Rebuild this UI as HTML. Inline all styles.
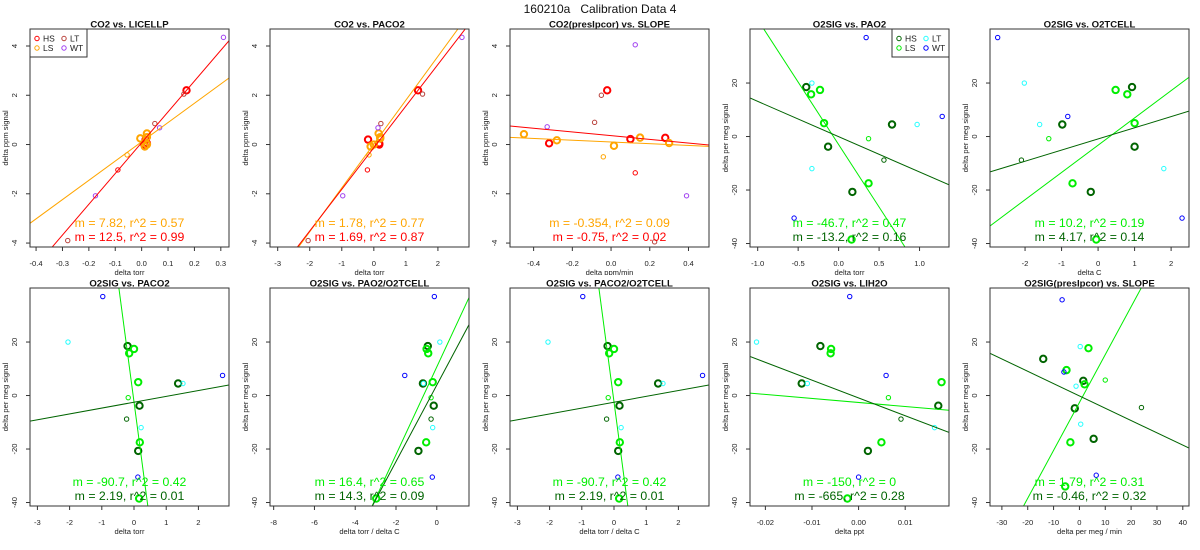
<!DOCTYPE html>
<html><head><meta charset="utf-8">
<style>
html,body{margin:0;padding:0;background:#fff;width:1200px;height:550px;overflow:hidden;}
svg{display:block;font-family:"Liberation Sans",Arial,sans-serif;}
</style></head>
<body>
<svg id="chart" width="1200" height="550" viewBox="0 0 1200 550" xmlns="http://www.w3.org/2000/svg">
<text x="600" y="13" text-anchor="middle" font-size="12" fill="#111" style="white-space:pre" xml:space="preserve">160210a   Calibration Data 4</text>
</svg>
<script>
// ---- CO2 data ----
const co2Groups = ['A','A','A','A','B','B','B','B','B','a','b','C','C','C','D','D','D'];
const co2Y = [2.2,0.2,0.0,0.05, 0.45,0.3,0.25,0.0,-0.08, -1.03,-0.42, -3.9,0.85,2.05, -2.08,0.68,4.35];
const p1X = [0.17,0.015,0.01,0.02, 0.02,0.02,-0.005,0.02,0.012, -0.09,-0.055, -0.28,0.05,0.16, -0.175,0.068,0.31];
const p2X = [1.38,-0.18,0.17,0.17, 0.15,0.2,0.2,0.0,-0.1, -0.2,-0.15, -2.05,0.22,1.52, -0.97,0.13,2.75];
const p3Y = [2.2,0.05,0.22,0.27, 0.42,0.17,-0.05,0.28,0.06, -1.15,-0.5, 2.0,0.9,-3.95, 0.72,4.05,-2.08];
const p3X = [-0.02,-0.32,0.1,0.28, -0.45,-0.28,0.015,0.15,0.3, 0.125,-0.04, -0.05,-0.085,0.225, -0.33,0.125,0.39];
// ---- O2 data ----
const o2Groups = ['A','A','A','A','B','B','B','B','B','b','a','C','C','C','D','D','D'];
const o2Y = [18.5,4.5,-3.8,-20.7, 15.8,17.4,5.0,-17.5,-38.5, -0.8,-8.8, 20,4.5,-12, 37,7.5,-30.5];
const p4X = [-0.4,0.66,-0.13,0.17,-0.34,-0.23,-0.18,0.37,0.16,0.37,0.56,-0.33,0.97,-0.33,0.34,1.28,-0.55];
const p5X = [0.93,-0.98,1.0,-0.2,0.8,0.48,1.0,-0.7,-0.05,-1.35,-2.1,-2.02,-1.6,1.8,-2.75,-0.83,2.3];
const p6X = [-0.2,1.37,0.17,0.13,-0.15,0.0,0.13,0.18,0.16,-0.18,-0.23,-2.05,1.52,0.22,-0.97,2.75,0.12];
const p7X = [-0.44,-0.68,-0.15,-0.9,-0.42,-0.5,-0.2,-0.52,-2.97,-0.28,-0.28,0.15,-0.65,-0.2,-0.12,-1.57,-0.22];
const p9X = [-0.0082,-0.0122,0.0171,0.002,-0.006,-0.0059,0.0178,0.0049,-0.0024,0.0064,0.0091,-0.0219,-0.011,0.0163,-0.0019,0.0059,0.0];
const p10X = [-14,1.5,-1.8,5.5,-5,3.5,2,-3.5,-5.5,10,24,0.3,-1.3,0.5,-6.7,-6,6.5];
const p10Y = [13.7,5.5,-4.8,-16.2, 9.5,17.7,4.2,-17.5,-34, 5.8,-4.5, 18.3,3.5,-10.7, 35.8,8.8,-29.8];
// ---- regression lines ----
const fitSlopesPrimary = [12.5,1.69,-0.75,-13.2,4.17,2.19,14.3,2.19,-665,-0.46];
const fitInterceptsPrimary = [0.075,-0.13,0.36,-0.05,-0.9,-2.5,3.9,-2.5,-0.9,-0.15];
const fitSlopesSecondary = [7.82,1.78,-0.354,-46.7,10.2,-90.7,16.4,-90.7,-150,1.79];
const fitInterceptsSecondary = [0.11,0.02,0.105,-3.0,-3.25,-2.4,10.7,-2.4,-2.6,-2.6];
const fitLabelsPrimary = ['m = 12.5, r^2 = 0.99','m = 1.69, r^2 = 0.87','m = -0.75, r^2 = 0.02','m = -13.2, r^2 = 0.16','m = 4.17, r^2 = 0.14','m = 2.19, r^2 = 0.01','m = 14.3, r^2 = 0.09','m = 2.19, r^2 = 0.01','m = -665, r^2 = 0.28','m = -0.46, r^2 = 0.32'];
const fitLabelsSecondary = ['m = 7.82, r^2 = 0.57','m = 1.78, r^2 = 0.77','m = -0.354, r^2 = 0.09','m = -46.7, r^2 = 0.47','m = 10.2, r^2 = 0.19','m = -90.7, r^2 = 0.42','m = 16.4, r^2 = 0.65','m = -90.7, r^2 = 0.42','m = -150, r^2 = 0','m = 1.79, r^2 = 0.31'];
// ---- ticks ----
const co2YTicks = [-4,-2,0,2,4];
const o2YTicks = [-40,-20,0,20];
const p1XTicks = [-0.4,-0.3,-0.2,-0.1,0,0.1,0.2,0.3];
const p1XTickLabels = ['-0.4','-0.3','-0.2','-0.1','0.0','0.1','0.2','0.3'];
const p2XTicks = [-3,-2,-1,0,1,2];
const p3XTicks = [-0.4,-0.2,0,0.2,0.4];
const p3XTickLabels = ['-0.4','-0.2','0.0','0.2','0.4'];
const p4XTicks = [-1,-0.5,0,0.5,1];
const p4XTickLabels = ['-1.0','-0.5','0.0','0.5','1.0'];
const p5XTicks = [-2,-1,0,1,2];
const p7XTicks = [-8,-6,-4,-2,0];
const p9XTicks = [-0.02,-0.01,0,0.01];
const p9XTickLabels = ['-0.02','-0.01','0.00','0.01'];
const p10XTicks = [-30,-20,-10,0,10,20,30,40];

const NS = 'http://www.w3.org/2000/svg';
const svg = document.getElementById('chart');
function mk(tag, attrs, parent){
  const e = document.createElementNS(NS, tag);
  for (const k in attrs) e.setAttribute(k, attrs[k]);
  (parent||svg).appendChild(e);
  return e;
}
const co2Colors = {A:'#ff0000', a:'#ff0000', B:'#ffa500', b:'#ffa500', C:'#b8403a', D:'#a040f0'};
const o2Colors = {A:'#006400', a:'#006400', B:'#00ee00', b:'#00ee00', C:'#22ffff', D:'#0000ff'};

const panels = [
 {title:'CO2 vs. LICELLP', col:0,row:0, xr:[-0.423,0.331], yr:[-4.16,4.69], xs:p1X, ys:co2Y, gs:co2Groups, col_:co2Colors, xt:p1XTicks, xl:p1XTickLabels, yt:co2YTicks, xlab:'delta torr', ylab:'delta ppm signal', legend:'left'},
 {title:'CO2 vs. PACO2', col:1,row:0, xr:[-3.24,2.97], yr:[-4.16,4.69], xs:p2X, ys:co2Y, gs:co2Groups, col_:co2Colors, xt:p2XTicks, xl:null, yt:co2YTicks, xlab:'delta torr', ylab:'delta ppm signal'},
 {title:'CO2(presIpcor) vs. SLOPE', col:2,row:0, xr:[-0.522,0.506], yr:[-4.16,4.69], xs:p3X, ys:p3Y, gs:co2Groups, col_:co2Colors, xt:p3XTicks, xl:p3XTickLabels, yt:co2YTicks, xlab:'delta ppm/min', ylab:'delta ppm signal'},
 {title:'O2SIG vs. PAO2', col:3,row:0, xr:[-1.095,1.364], yr:[-41.3,40.2], xs:p4X, ys:o2Y, gs:o2Groups, col_:o2Colors, xt:p4XTicks, xl:p4XTickLabels, yt:o2YTicks, xlab:'delta torr', ylab:'delta per meg signal', legend:'right'},
 {title:'O2SIG vs. O2TCELL', col:4,row:0, xr:[-2.96,2.49], yr:[-41.3,40.2], xs:p5X, ys:o2Y, gs:o2Groups, col_:o2Colors, xt:p5XTicks, xl:null, yt:o2YTicks, xlab:'delta C', ylab:'delta per meg signal'},
 {title:'O2SIG vs. PACO2', col:0,row:1, xr:[-3.23,2.95], yr:[-41.3,40.2], xs:p6X, ys:o2Y, gs:o2Groups, col_:o2Colors, xt:p2XTicks, xl:null, yt:o2YTicks, xlab:'delta torr', ylab:'delta per meg signal'},
 {title:'O2SIG vs. PAO2/O2TCELL', col:1,row:1, xr:[-8.18,1.58], yr:[-41.3,40.2], xs:p7X, ys:o2Y, gs:o2Groups, col_:o2Colors, xt:p7XTicks, xl:null, yt:o2YTicks, xlab:'delta torr / delta C', ylab:'delta per meg signal'},
 {title:'O2SIG vs. PACO2/O2TCELL', col:2,row:1, xr:[-3.23,2.95], yr:[-41.3,40.2], xs:p6X, ys:o2Y, gs:o2Groups, col_:o2Colors, xt:p2XTicks, xl:null, yt:o2YTicks, xlab:'delta torr / delta C', ylab:'delta per meg signal'},
 {title:'O2SIG vs. LIH2O', col:3,row:1, xr:[-0.0233,0.0194], yr:[-41.3,40.2], xs:p9X, ys:o2Y, gs:o2Groups, col_:o2Colors, xt:p9XTicks, xl:p9XTickLabels, yt:o2YTicks, xlab:'delta ppt', ylab:'delta per meg signal'},
 {title:'O2SIG(presIpcor) vs. SLOPE', col:4,row:1, xr:[-34.6,42.4], yr:[-41.3,40.2], xs:p10X, ys:p10Y, gs:o2Groups, col_:o2Colors, xt:p10XTicks, xl:null, yt:o2YTicks, xlab:'delta per meg / min', ylab:'delta per meg signal'}
];

const BW = 199, BH = 218;
panels.forEach((p, i) => {
  const bx = 30 + 240*p.col, by = p.row ? 288 : 29;
  const g = mk('g', {});
  
  
  const clipFig = mk('clipPath', {id:'fig'+i});
  mk('rect', {x:bx-40, y:p.row?276:16, width:240, height:p.row?274:259}, clipFig);
  g.setAttribute('clip-path', 'url(#fig'+i+')');
  const sx = v => bx + (v - p.xr[0])/(p.xr[1]-p.xr[0])*BW;
  const sy = v => by + BH - (v - p.yr[0])/(p.yr[1]-p.yr[0])*BH;
  const t = mk('text', {x:bx+BW/2, y:by-1.5, 'text-anchor':'middle', 'font-size':'9.6', 'font-weight':'bold', fill:'#111'}, g);
  t.textContent = p.title;
  
  
  const cp = mk('clipPath', {id:'clip'+i});
  mk('rect', {x:bx, y:by, width:BW, height:BH}, cp);
  const plot = mk('g', {'clip-path':'url(#clip'+i+')'}, g);
  p.xs.forEach((xv, k) => {
    const grp = p.gs[k];
    const big = (grp === 'A' || grp === 'B');
    const c = mk('circle', {cx:sx(xv), cy:sy(p.ys[k]), r: big?3.2:2.2, fill:'none', stroke:p.col_[grp], 'stroke-width': big?2:1}, plot);
    
    
  });
  const lineCols = [p.col_.A, p.col_.B];
  const slopes = [fitSlopesPrimary[i], fitSlopesSecondary[i]];
  const ints = [fitInterceptsPrimary[i], fitInterceptsSecondary[i]];
  [1,0].forEach(j => {
    const x0 = p.xr[0], x1 = p.xr[1];
    const l = mk('line', {x1:sx(x0), y1:sy(slopes[j]*x0+ints[j]), x2:sx(x1), y2:sy(slopes[j]*x1+ints[j]), stroke:lineCols[j], 'stroke-width':1}, plot);
    
    
  });
  const t1 = mk('text', {x:bx+BW/2, y:by+198, 'text-anchor':'middle', 'font-size':'12.3', fill:lineCols[1]}, g);
  t1.textContent = fitLabelsSecondary[i];
  
  
  const t2 = mk('text', {x:bx+BW/2, y:by+212, 'text-anchor':'middle', 'font-size':'12.3', fill:lineCols[0]}, g);
  t2.textContent = fitLabelsPrimary[i];
  
  
  const b = mk('rect', {x:bx, y:by, width:BW, height:BH, fill:'none', stroke:'#333', 'stroke-width':1}, g);
  
  
  p.xt.forEach((v, k) => {
    const X = sx(v);
    mk('line', {x1:X, y1:by+BH, x2:X, y2:by+BH+4, stroke:'#333'}, g);
    const tl = mk('text', {x:X, y:by+BH+19, 'text-anchor':'middle', 'font-size':'7.6', fill:'#222'}, g);
    tl.textContent = p.xl ? p.xl[k] : String(v);
    
    
  });
  p.yt.forEach(v => {
    const Y = sy(v);
    mk('line', {x1:bx-4, y1:Y, x2:bx, y2:Y, stroke:'#333'}, g);
    const tl = mk('text', {x:0, y:0, 'text-anchor':'middle', 'font-size':'7.6', fill:'#222', transform:'translate('+(bx-13)+','+Y+') rotate(-90)'}, g);
    tl.textContent = String(v);
    
    
  });
  const xa = mk('text', {x:bx+BW/2, y:by+BH+28, 'text-anchor':'middle', 'font-size':'7.6', fill:'#222'}, g);
  xa.textContent = p.xlab;
  
  
  const ya = mk('text', {x:0, y:0, 'text-anchor':'middle', 'font-size':'7.6', fill:'#222', transform:'translate('+(bx-22)+','+(by+BH/2)+') rotate(-90)'}, g);
  ya.textContent = p.ylab;
  
  
  if (p.legend) {
    const lx = p.legend === 'left' ? bx : bx + BW - 57;
    const lg = mk('g', {}, g);
    
    
    mk('rect', {x:lx, y:by, width:57, height:28, fill:'#fff', stroke:'#333'}, lg);
    const entries = [['HS','A',0,0],['LT','C',1,0],['LS','B',0,1],['WT','D',1,1]];
    entries.forEach(e => {
      const cx = lx + 7 + e[2]*27, cy = by + 9.5 + e[3]*9.5;
      mk('circle', {cx:cx, cy:cy, r:2.2, fill:'none', stroke:p.col_[e[1]], 'stroke-width':1}, lg);
      const et = mk('text', {x:cx+6, y:cy+3, 'font-size':'8.5', fill:'#222'}, lg);
      et.textContent = e[0];
      
      
    });
  }
});
</script>
</body></html>
